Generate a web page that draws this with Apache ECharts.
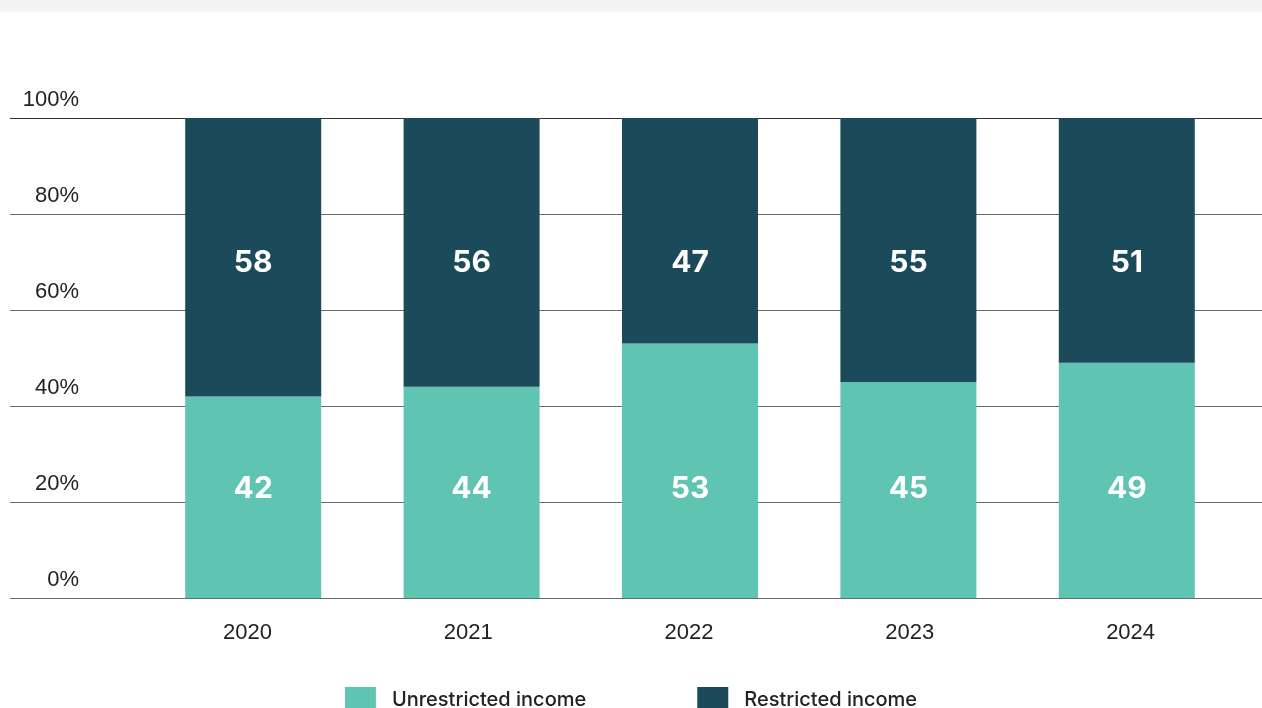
<!DOCTYPE html>
<html>
<head>
<meta charset="utf-8">
<script src="https://cdn.jsdelivr.net/npm/echarts@6/dist/echarts.min.js"></script>
<style>
  html, body { margin: 0; padding: 0; background: #ffffff; }
  #chart { width: 1262px; height: 708px; }
</style>
</head>
<body>
<div id="chart"></div>
<script>
// Income mix by year (percent of total)
const years = ['2020', '2021', '2022', '2023', '2024'];
const unrestricted = [42, 44, 53, 45, 49];
const restricted = [58, 56, 47, 55, 51];
const yTicks = [0, 20, 40, 60, 80, 100];

const teal = '#5fc4b1';
const navy = '#1b4a5b';
const labelFont = 'Inter, "Noto Sans", sans-serif';
const axisFont = '"Liberation Sans", Arial, sans-serif';

const chart = echarts.init(document.getElementById('chart'), null, { renderer: 'canvas' });

// value labels sit at a fixed height inside each segment
function barLabel(position, distance) {
  return {
    show: true,
    position: position,
    distance: distance,
    color: '#ffffff',
    fontFamily: labelFont,
    fontWeight: 700,
    fontSize: 30,
    lineHeight: 30,
    formatter: p => p.value
  };
}

chart.setOption({
  backgroundColor: '#ffffff',
  animation: false,
  graphic: [
    { type: 'rect', left: 0, top: 0, shape: { width: 1262, height: 12 }, style: { fill: '#f5f4f2' }, z: -1 }
  ],
  grid: [
    // full-width grid carrying the horizontal rules and percent labels
    { left: 10, right: 0, top: 118, bottom: 110 },
    // grid carrying the yearly bars
    { left: 144, right: 26, top: 118, bottom: 110 },
    // grid carrying the year labels
    { left: 137, right: 21, top: 118, bottom: 110 }
  ],
  xAxis: [
    { gridIndex: 0, type: 'value', min: 0, max: 1, show: false },
    { gridIndex: 1, type: 'category', data: years, show: false },
    {
      gridIndex: 2,
      type: 'category',
      data: years,
      axisLine: { show: false },
      axisTick: { show: false },
      axisLabel: { color: '#222', fontFamily: axisFont, fontSize: 22, margin: 24 }
    }
  ],
  yAxis: [
    {
      gridIndex: 0,
      type: 'value',
      min: 0,
      max: 100,
      interval: 20,
      axisLine: { show: false },
      axisTick: { show: false },
      axisLabel: {
        color: '#222',
        fontFamily: axisFont,
        fontSize: 22,
        margin: -69,
        align: 'right',
        verticalAlign: 'bottom',
        lineHeight: 22,
        padding: [0, 0, 7, 0],
        formatter: v => (yTicks.indexOf(v) >= 0 ? v + '%' : '')
      },
      splitLine: {
        show: true,
        lineStyle: { color: ['#6b6b6b', '#6b6b6b', '#6b6b6b', '#6b6b6b', '#6b6b6b', '#333333'], width: 1 }
      }
    },
    { gridIndex: 1, type: 'value', min: 0, max: 100, show: false, splitLine: { show: false } },
    { gridIndex: 2, type: 'value', min: 0, max: 100, show: false, splitLine: { show: false } }
  ],
  legend: {
    left: 'center',
    top: 687,
    padding: 0,
    itemWidth: 31,
    itemHeight: 26,
    itemGap: 111,
    icon: 'rect',
    textStyle: { color: '#222', fontFamily: labelFont, fontSize: 20, fontWeight: 500, padding: [0, 0, 0, 11] },
    data: ['Unrestricted income', 'Restricted income']
  },
  series: [
    {
      name: 'Unrestricted income',
      type: 'bar',
      stack: 'total',
      xAxisIndex: 1,
      yAxisIndex: 1,
      barWidth: 136,
      itemStyle: { color: teal },
      label: barLabel('insideBottom', 94),
      data: unrestricted
    },
    {
      name: 'Restricted income',
      type: 'bar',
      stack: 'total',
      xAxisIndex: 1,
      yAxisIndex: 1,
      barWidth: 136,
      itemStyle: { color: navy },
      label: barLabel('insideTop', 130),
      data: restricted
    }
  ]
});
</script>
</body>
</html>
